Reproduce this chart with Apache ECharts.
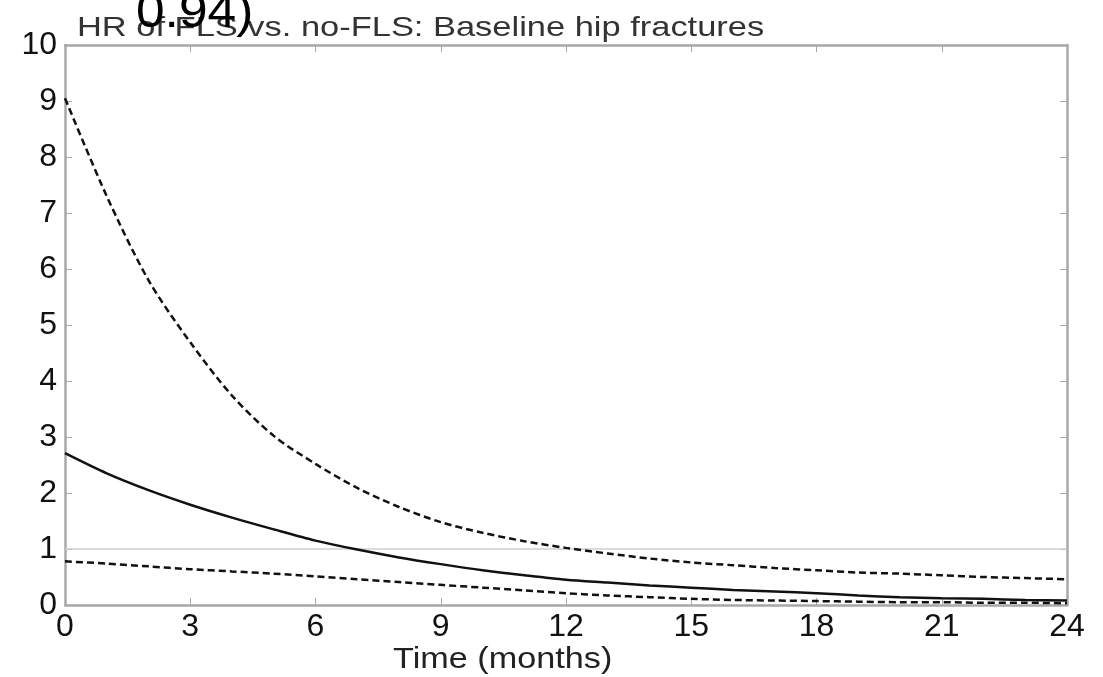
<!DOCTYPE html>
<html>
<head>
<meta charset="utf-8">
<script src="https://cdn.jsdelivr.net/npm/echarts@6/dist/echarts.min.js"></script>
<style>
html,body{margin:0;padding:0;background:#fff;}
#chart{width:1103px;height:677px;}
</style>
</head>
<body>
<div id="chart"></div>
<script>
// ---- data ----
const months = [0,1,2,3,4,5,6,7,8,9,10,11,12,13,14,15,16,17,18,19,20,21,22,23,24];
const upperCI = [9.05,7.30,5.80,4.69,3.74,3.02,2.52,2.09,1.75,1.48,1.29,1.14,1.02,0.92,0.83,0.76,0.71,0.66,0.62,0.58,0.56,0.53,0.50,0.48,0.46];
const hrEstimate = [2.71,2.35,2.05,1.79,1.56,1.35,1.15,0.99,0.85,0.73,0.62,0.53,0.45,0.40,0.35,0.31,0.27,0.24,0.21,0.17,0.14,0.12,0.11,0.09,0.08];
const lowerCI = [0.78,0.74,0.69,0.64,0.60,0.56,0.51,0.46,0.41,0.36,0.31,0.26,0.21,0.17,0.14,0.11,0.09,0.08,0.07,0.06,0.05,0.05,0.04,0.04,0.03];
const referenceHR = [1,1];
const refX = [0,24];
const xTicks = [0,3,6,9,12,15,18,21,24];
const yTicks = [0,1,2,3,4,5,6,7,8,9,10];
const titleText = 'HR of FLS vs. no-FLS: Baseline hip fractures';
const overlayText = '0.94)';
const xName = 'Time (months)';

const pair = (xs, ys) => xs.map((x, i) => [x, ys[i]]);

const chart = echarts.init(document.getElementById('chart'));
const fontFamily = '"Liberation Sans", Arial, sans-serif';
const axisGray = '#a8a8a8';

const baseX = {
  type: 'value', min: 0, max: 24, interval: 3,
  axisLine: {show: true, onZero: false, lineStyle: {color: axisGray, width: 2.5}},
  axisTick: {show: true, inside: true, length: 7, lineStyle: {color: axisGray, width: 1}},
  splitLine: {show: false}
};
const baseY = {
  type: 'value', min: 0, max: 10, interval: 1,
  axisLine: {show: true, onZero: false, lineStyle: {color: axisGray, width: 2.5}},
  axisTick: {show: true, inside: true, length: 7, lineStyle: {color: axisGray, width: 1}},
  splitLine: {show: false}
};

chart.setOption({
  backgroundColor: '#fff',
  animation: false,
  graphic: [
    {
      type: 'text', x: 77, y: 14, scaleX: 1.23, scaleY: 1, z: 10,
      style: {text: titleText, fontFamily, fontSize: 28, fill: '#333'}
    },
    {
      type: 'text', x: 136, y: -11, scaleX: 1.05, z: 11,
      style: {text: overlayText, fontFamily, fontSize: 49, fill: '#000'}
    },
    {
      type: 'text', x: 393, y: 645, scaleX: 1.18, z: 10,
      style: {text: xName, fontFamily, fontSize: 29, fill: '#222'}
    }
  ],
  grid: {left: 65, right: 36, top: 45, bottom: 72, containLabel: false},
  xAxis: [
    Object.assign({}, baseX, {
      position: 'bottom',
      axisLabel: {show: true, fontFamily, fontSize: 32, color: '#111', margin: 6,
        formatter: v => xTicks.includes(v) ? String(v) : ''}
    }),
    Object.assign({}, baseX, {position: 'top', axisLabel: {show: false}})
  ],
  yAxis: [
    Object.assign({}, baseY, {
      position: 'left',
      axisLabel: {show: true, fontFamily, fontSize: 32, color: '#111', margin: 8,
        formatter: v => yTicks.includes(v) ? String(v) : ''}
    }),
    Object.assign({}, baseY, {position: 'right', axisLabel: {show: false}})
  ],
  series: [
    {
      name: 'HR = 1', type: 'line', data: pair(refX, referenceHR),
      symbol: 'none', lineStyle: {color: '#cfcfcf', width: 1.5}, z: 1
    },
    {
      name: 'Upper 95% CI', type: 'line', data: pair(months, upperCI),
      symbol: 'none', smooth: 0.3,
      lineStyle: {color: '#111', width: 2.5, type: [7, 4]}
    },
    {
      name: 'HR', type: 'line', data: pair(months, hrEstimate),
      symbol: 'none', smooth: 0.3,
      lineStyle: {color: '#111', width: 2.5}
    },
    {
      name: 'Lower 95% CI', type: 'line', data: pair(months, lowerCI),
      symbol: 'none', smooth: 0.3,
      lineStyle: {color: '#111', width: 2.5, type: [7, 4]}
    }
  ]
});
</script>
</body>
</html>
